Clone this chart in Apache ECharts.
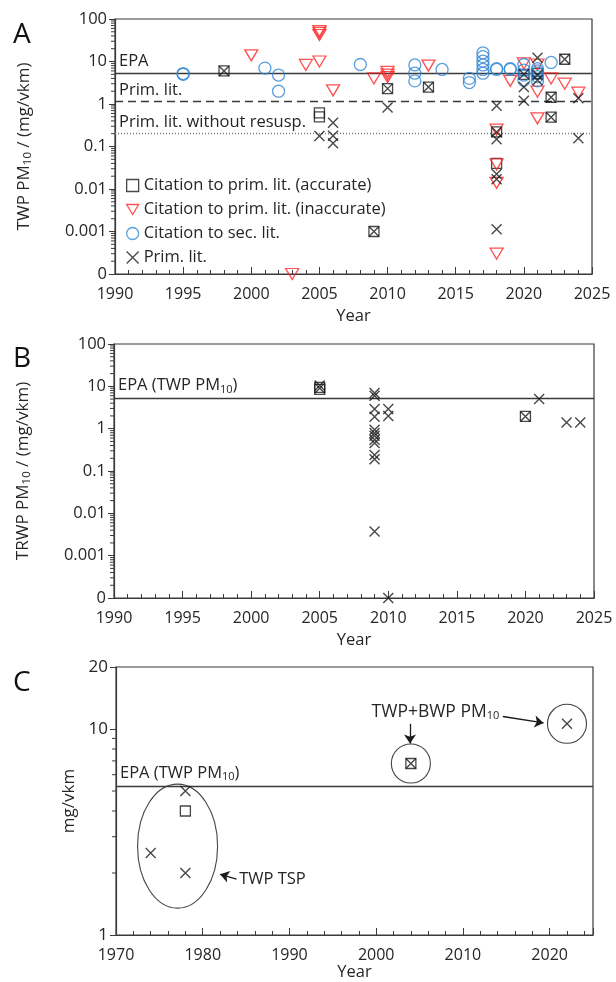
<!DOCTYPE html>
<html>
<head>
<meta charset="utf-8">
<script src="https://cdn.jsdelivr.net/npm/echarts@6/dist/echarts.min.js"></script>
<style>
  html, body { margin: 0; padding: 0; background: #fff; }
  #main { width: 616px; height: 982px; }
</style>
</head>
<body>
<div id="main"></div>
<script>
// legend names
var names = ['Citation to prim. lit. (accurate)', 'Citation to prim. lit. (inaccurate)',
             'Citation to sec. lit.', 'Prim. lit.'];

// reference levels (mg/vkm)
var epaLevel = 5.3;
var primLitLevel = 1.15;
var primNoResuspLevel = 0.2;

// panel A  [year, TWP PM10]
var aAccurate = [[1998,6.0],[2005,0.5],[2005,0.62],[2009,0.001],[2010,2.3],[2013,2.5],
  [2018,0.22],[2018,0.04],[2020,5.0],[2021,5.2],[2022,1.44],[2022,0.49],[2023,11.3]];
var aInaccurate = [[2000,14],[2003,0.0001],[2004,8.3],[2005,10],[2005,42],[2005,47],[2005,52],
  [2006,2.1],[2009,4.0],[2010,5.7],[2010,4.9],[2010,4.3],[2013,8.0],[2018,0.25],[2018,0.038],
  [2018,0.014],[2018,0.0003],[2019,3.5],[2020,9],[2021,8.5],[2021,1.95],[2021,0.46],
  [2022,4.0],[2023,3.0],[2024,1.85]];
var aSecondary = [[1995,5.0],[1995,5.2],[2001,7.0],[2002,4.8],[2002,2.0],[2008,8.5],
  [2012,8.3],[2012,5.3],[2012,3.5],[2014,6.5],[2016,4.0],[2016,3.2],
  [2017,16],[2017,13],[2017,10.2],[2017,8.3],[2017,6.5],[2017,5.3],
  [2018,6.8],[2018,6.5],[2019,6.8],[2019,6.5],[2020,8.5],[2020,6.3],[2020,4.8],[2020,3.6],
  [2021,6.8],[2021,6.0],[2021,5.3],[2021,4.4],[2021,3.5],[2022,9.5]];
var aPrimary = [[1998,6.0],[2005,0.177],[2006,0.36],[2006,0.18],[2006,0.12],[2009,0.001],
  [2010,2.3],[2010,0.83],[2013,2.5],[2018,0.91],[2018,0.22],[2018,0.148],[2018,0.0225],
  [2018,0.017],[2018,0.00113],[2020,5.0],[2020,2.5],[2020,1.2],[2021,12.3],[2021,4.8],
  [2021,3.6],[2022,1.44],[2022,0.49],[2023,11.3],[2024,1.36],[2024,0.156]];

// panel B  [year, TRWP PM10]
var bAccurate = [[2005,8.5],[2005,9.5],[2020,1.95]];
var bPrimary = [[2005,10.5],[2005,9.0],[2009,7.0],[2009,6.0],[2009,2.9],[2009,1.9],[2009,0.94],
  [2009,0.79],[2009,0.68],[2009,0.55],[2009,0.46],[2009,0.24],[2009,0.19],[2009,0.0037],
  [2010,2.9],[2010,2.0],[2010,0.0001],[2020,1.95],[2021,5.0],[2023,1.4],[2024,1.4]];

// panel C  [year, mg/vkm]
var cAccurate = [[1978,4.0],[2004,6.8]];
var cPrimary = [[1974,2.5],[1978,5.0],[1978,2.0],[2004,6.8],[2022,10.6]];

// log-axis minor tick positions (2..9 per decade)
var minorSteps = [2, 3, 4, 5, 6, 7, 8, 9];
var abDecades = [0.0001, 0.001, 0.01, 0.1, 1, 10];
var cDecades = [1];

var black = '#1a1a1a', red = '#ff2424', blue = '#2f86d4', axisCol = '#3a3a3a', txt = '#262626';
var font = '"Open Sans", Lato, sans-serif';
var xPath = 'path://M0,0L10,10M10,0L0,10';
var triPath = 'path://M0,0L12,0L6,10Z';

function logLabel(v) {
  if (v < 0.0005) return '0';
  return String(+v.toPrecision(3));
}

function scat(name, data, gi, kind) {
  var s = { name: name, type: 'scatter', data: data, xAxisIndex: gi, yAxisIndex: gi, z: 3 };
  if (kind === 'sq') {
    s.symbol = 'rect'; s.symbolSize = 10;
    s.itemStyle = { color: 'transparent', borderColor: black, borderWidth: 1.3 };
  } else if (kind === 'tri') {
    s.symbol = triPath; s.symbolSize = [13, 11];
    s.itemStyle = { color: 'transparent', borderColor: red, borderWidth: 1.3 };
  } else if (kind === 'circ') {
    s.symbol = 'circle'; s.symbolSize = 12;
    s.itemStyle = { color: 'transparent', borderColor: blue, borderWidth: 1.3 };
  } else {
    s.symbol = xPath; s.symbolSize = 10;
    s.itemStyle = { color: 'transparent', borderColor: black, borderWidth: 1.4 };
  }
  return s;
}

// minor ticks on a log y axis, drawn left of the axis line
function minorTicks(gi, xmin, decades) {
  var data = [];
  decades.forEach(function (d) {
    minorSteps.forEach(function (m) { data.push([xmin, +(m * d).toPrecision(3)]); });
  });
  return {
    type: 'custom', xAxisIndex: gi, yAxisIndex: gi, data: data, silent: true, clip: false, z: 2,
    renderItem: function (params, api) {
      var p = api.coord([api.value(0), api.value(1)]);
      return { type: 'line', shape: { x1: p[0] - 4, y1: p[1], x2: p[0], y2: p[1] },
               style: { stroke: axisCol, lineWidth: 1 } };
    }
  };
}

function xAx(gi, min, max, interval, gap) {
  return {
    gridIndex: gi, type: 'value', min: min, max: max, interval: interval,
    axisLine: { lineStyle: { color: axisCol, width: 1.2 } },
    axisTick: { inside: true, length: 7, lineStyle: { color: axisCol } },
    minorTick: { show: true, splitNumber: 5, length: 4, lineStyle: { color: axisCol } },
    splitLine: { show: false },
    axisLabel: { color: txt, fontSize: 16, fontFamily: font, margin: 12,
                 showMaxLabel: max % interval === 0, formatter: function (v) { return String(v); } },
    name: 'Year', nameLocation: 'middle', nameGap: gap,
    nameTextStyle: { color: txt, fontSize: 16.5, fontFamily: font }
  };
}

function yAx(gi, min, max, name, gap, split, fs) {
  return {
    gridIndex: gi, type: 'log', logBase: 10, min: min, max: max, splitNumber: split,
    axisLine: { show: true, lineStyle: { color: axisCol, width: 1.2 } },
    axisTick: { inside: false, length: 6, lineStyle: { color: axisCol } },
    splitLine: { show: false },
    axisLabel: { color: txt, fontSize: fs, fontFamily: font, margin: 8, formatter: logLabel },
    name: name, nameLocation: 'middle', nameGap: gap, nameRotate: 90,
    nameTextStyle: { color: txt, fontSize: 17, fontFamily: font,
      rich: { s: { fontSize: 11.5, fontFamily: font, color: txt, verticalAlign: 'bottom', padding: [8, 0, 0, 0] } } }
  };
}

function refLine(val, label, type) {
  return {
    yAxis: val,
    lineStyle: { color: type === 'dotted' ? '#777' : axisCol, width: type === 'dotted' ? 1.4 : 1.3,
                 type: type === 'dashed' ? [8, 5] : (type === 'dotted' ? [1, 2] : 'solid') },
    label: { show: true, formatter: label, position: 'insideStartTop', distance: [4, 3],
             color: txt, fontSize: 16.5, fontFamily: font,
             rich: { s: { fontSize: 11, fontFamily: font, color: txt, verticalAlign: 'bottom', padding: [8, 0, 0, 0] } } }
  };
}

var aPrim = scat(names[3], aPrimary, 0, 'x');
aPrim.markLine = { silent: true, symbol: 'none', z: 1,
  data: [refLine(epaLevel, 'EPA', 'solid'), refLine(primLitLevel, 'Prim. lit.', 'dashed'),
         refLine(primNoResuspLevel, 'Prim. lit. without resusp.', 'dotted')] };
var bPrim = scat(names[3], bPrimary, 1, 'x');
bPrim.markLine = { silent: true, symbol: 'none', z: 1,
  data: [refLine(epaLevel, 'EPA (TWP PM{s|10})', 'solid')] };
var cPrim = scat(names[3], cPrimary, 2, 'x');
cPrim.markLine = { silent: true, symbol: 'none', z: 1,
  data: [refLine(epaLevel, 'EPA (TWP PM{s|10})', 'solid')] };
// annotation arrows in panel C
var cArrows = { type: 'scatter', xAxisIndex: 2, yAxisIndex: 2, data: [], silent: true,
  markLine: { silent: true, symbol: ['none', 'arrow'], symbolSize: 9,
    lineStyle: { color: black, width: 1.3, type: 'solid' }, label: { show: false },
    data: [
      [{ coord: [1983.9, 1.87] }, { coord: [1982.0, 1.97] }],
      [{ coord: [2003.9, 10.6] }, { coord: [2003.9, 8.5] }],
      [{ coord: [2014.6, 11.5] }, { coord: [2019.3, 10.7] }]
    ] } };

var gridStyle = { show: true, borderColor: axisCol, borderWidth: 1.2, backgroundColor: 'transparent' };

var option = {
  backgroundColor: '#fff',
  animation: false,
  textStyle: { fontFamily: font },
  grid: [
    Object.assign({ left: 115, top: 19, width: 477, height: 255 }, gridStyle),
    Object.assign({ left: 114, top: 344, width: 480, height: 254 }, gridStyle),
    Object.assign({ left: 116, top: 667, width: 477, height: 269 }, gridStyle)
  ],
  xAxis: [xAx(0, 1990, 2025, 5, 34), xAx(1, 1990, 2025, 5, 34), xAx(2, 1970, 2025, 10, 29)],
  yAxis: [
    yAx(0, 0.0001, 100, 'TWP PM{s|10} / (mg/vkm)', 81, 6, 16.5),
    yAx(1, 0.0001, 100, 'TRWP PM{s|10} / (mg/vkm)', 81, 6, 16.5),
    yAx(2, 1, 20, 'mg/vkm', 38, 2, 17)
  ],
  legend: {
    data: names, orient: 'vertical', left: 121, top: 172, itemGap: 7,
    itemWidth: 12, itemHeight: 12, itemStyle: { borderWidth: 1.3 },
    textStyle: { color: txt, fontSize: 16.5, fontFamily: font }, selectedMode: false
  },
  series: [
    scat(names[0], aAccurate, 0, 'sq'), scat(names[1], aInaccurate, 0, 'tri'),
    scat(names[2], aSecondary, 0, 'circ'), aPrim,
    scat(names[0], bAccurate, 1, 'sq'), bPrim,
    scat(names[0], cAccurate, 2, 'sq'), cPrim, cArrows,
    minorTicks(0, 1990, abDecades), minorTicks(1, 1990, abDecades), minorTicks(2, 1970, cDecades)
  ]
};

var chart = echarts.init(document.getElementById('main'));
chart.setOption(option);

// panel letters and panel C annotations (positioned through the axes)
function px(pt) { return chart.convertToPixel({ gridIndex: 2 }, pt); }
var tsp = px([1977.1, 2.7]);
var ring1 = px(cPrimary[3]);
var ring2 = px(cPrimary[4]);
var tspTxt = px([1984.2, 1.87]);
var bwpTxt = px([1999.7, 12.1]);
chart.setOption({
  graphic: [
    { type: 'text', left: 13, top: 21, style: { text: 'A', fontSize: 28, fontFamily: font, fill: '#111' } },
    { type: 'text', left: 13, top: 345, style: { text: 'B', fontSize: 28, fontFamily: font, fill: '#111' } },
    { type: 'text', left: 13, top: 669, style: { text: 'C', fontSize: 28, fontFamily: font, fill: '#111' } },
    { type: 'ellipse', shape: { cx: tsp[0], cy: tsp[1], rx: 40, ry: 62 },
      style: { fill: 'none', stroke: '#444', lineWidth: 1.1 } },
    { type: 'circle', shape: { cx: ring1[0], cy: ring1[1], r: 19.5 }, style: { fill: 'none', stroke: '#444', lineWidth: 1.1 } },
    { type: 'circle', shape: { cx: ring2[0], cy: ring2[1], r: 19.5 }, style: { fill: 'none', stroke: '#444', lineWidth: 1.1 } },
    { type: 'text', x: tspTxt[0], y: tspTxt[1],
      style: { text: 'TWP TSP', fontSize: 16.5, fontFamily: font, fill: txt, verticalAlign: 'middle' } },
    { type: 'text', x: bwpTxt[0] - 2, y: bwpTxt[1],
      style: { text: 'TWP+BWP PM{s|10}', fontSize: 17.5, fontFamily: font, fill: txt, verticalAlign: 'middle',
               rich: { s: { fontSize: 11, fontFamily: font, fill: txt, verticalAlign: 'bottom', padding: [8, 0, 0, 0] } } } }
  ]
});
</script>
</body>
</html>
